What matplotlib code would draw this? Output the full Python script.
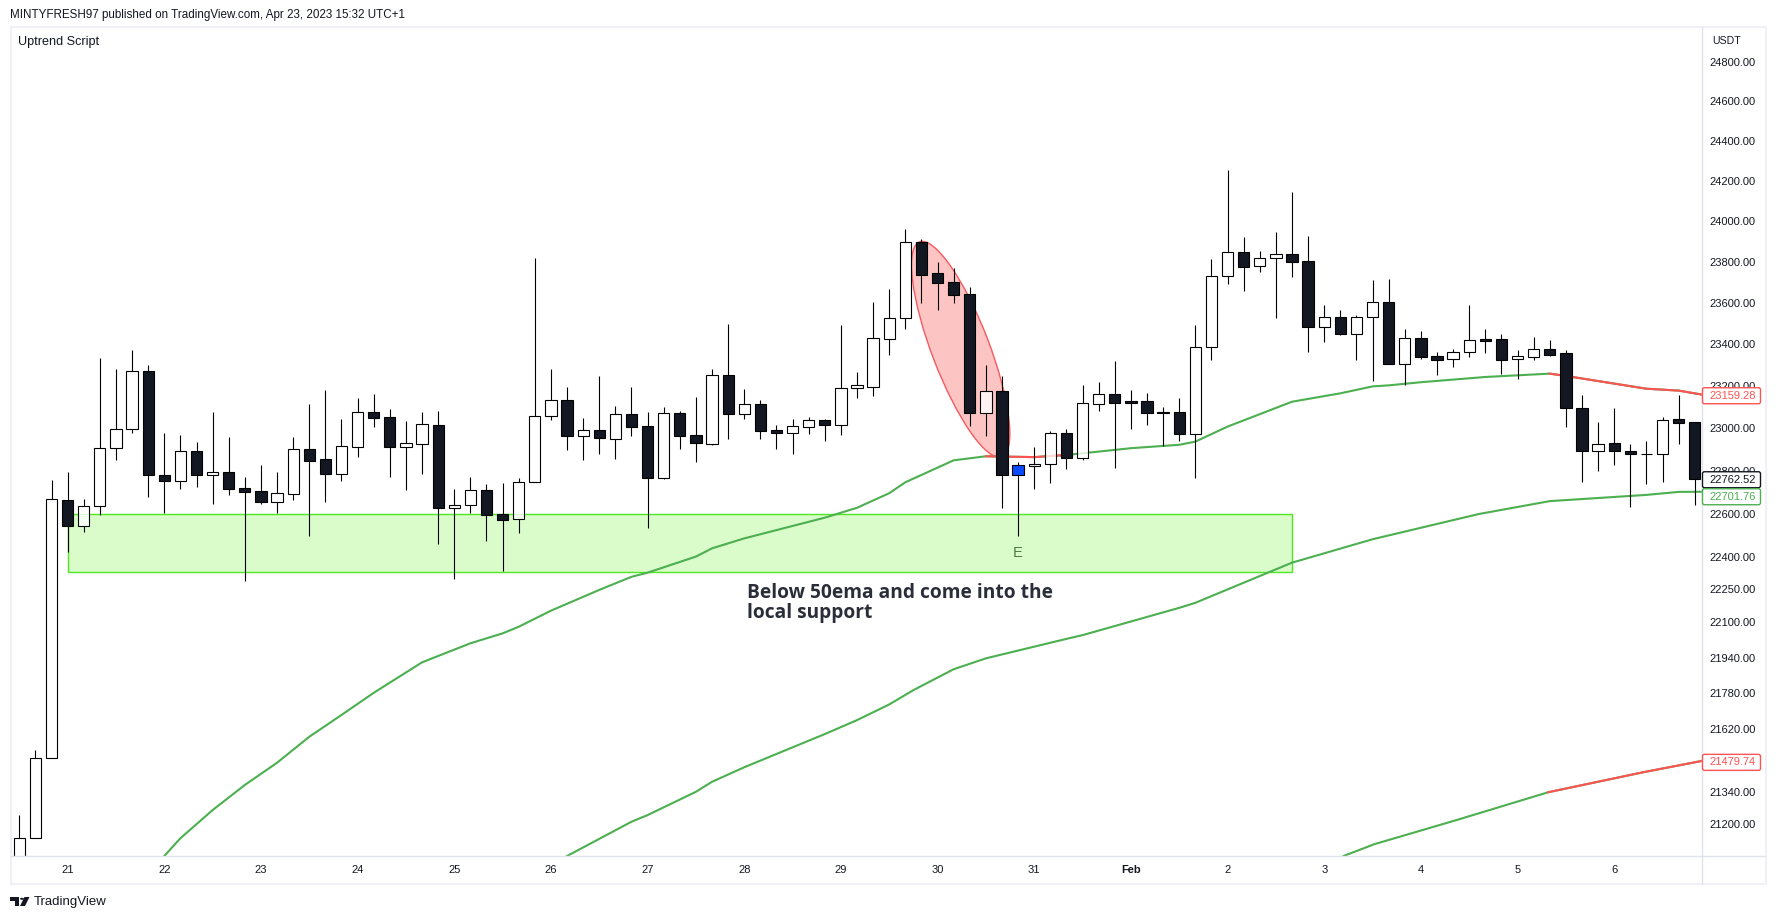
import math
import matplotlib
matplotlib.use("Agg")
import matplotlib.pyplot as plt
import numpy as np
from matplotlib.patches import Rectangle, Ellipse, FancyBboxPatch, Polygon, Circle
from matplotlib.lines import Line2D
from matplotlib.ticker import NullLocator
from matplotlib.transforms import IdentityTransform

W, H = 1776, 919

# 4h candles, index 0 = leftmost candle
opens = [20950, 21140, 21491, 22662, 22544, 22634, 22905, 22995, 23271, 22778,
         22753, 22891, 22782, 22792, 22718, 22704, 22655, 22693, 22901, 22854,
         22786, 22913, 23076, 23052, 22913, 22927, 23014, 22627, 22638, 22708,
         22596, 22576, 22746, 23057, 23133, 22962, 22991, 22951, 23066, 23009,
         22767, 23071, 22966, 22927, 23252, 23069, 23113, 22991, 22979, 23007,
         23037, 23017, 23193, 23198, 23428, 23526, 23897, 23745, 23701, 23643,
         23074, 23175, 22825, 22823, 22833, 22976, 22861, 23116, 23161, 23128,
         23128, 23077, 23075, 22975, 23387, 23730, 23848, 23779, 23818, 23838,
         23804, 23486, 23531, 23452, 23531, 23604, 23305, 23430, 23343, 23329,
         23362, 23425, 23425, 23329, 23342, 23377, 23358, 23095, 22891, 22930,
         22892, 22880, 22877, 23045, 23029]
highs = [21241, 21527, 22757, 22794, 22668, 23335, 23282, 23373, 23301, 22978,
         22968, 22935, 23077, 22959, 22771, 22827, 22794, 22959, 23115, 23182,
         23044, 23144, 23163, 23092, 23035, 23077, 23082, 22714, 22771, 22738,
         22742, 22766, 23820, 23282, 23196, 23049, 23248, 23105, 23196, 23077,
         23101, 23082, 23148, 23282, 23499, 23186, 23134, 23015, 23044, 23053,
         23044, 23494, 23268, 23605, 23669, 23963, 23913, 23800, 23771, 23678,
         23301, 23248, 22841, 22911, 22987, 22996, 23205, 23220, 23320, 23182,
         23167, 23101, 23143, 23494, 23815, 24255, 23923, 23854, 23948, 24146,
         23928, 23591, 23567, 23542, 23712, 23717, 23475, 23465, 23364, 23378,
         23591, 23475, 23451, 23374, 23436, 23422, 23374, 23159, 23031, 23097,
         22927, 22941, 23054, 23159, 23029]
lows = [20900, 21140, 21491, 22423, 22516, 22595, 22850, 22978, 22679, 22601,
        22716, 22725, 22646, 22688, 22290, 22646, 22601, 22665, 22497, 22655,
        22753, 22866, 23008, 22772, 22711, 22786, 22460, 22299, 22604, 22474,
        22336, 22511, 22746, 23041, 22899, 22852, 22880, 22856, 22965, 22534,
        22762, 22903, 22842, 22922, 22951, 23045, 22951, 22903, 22880, 22974,
        22941, 22969, 23145, 23155, 23351, 23476, 23602, 23568, 23602, 23012,
        22965, 22627, 22497, 22716, 22744, 22809, 22852, 23083, 22814, 22998,
        23017, 22917, 22941, 22764, 23323, 23695, 23661, 23753, 23530, 23729,
        23366, 23414, 23447, 23323, 23227, 23305, 23208, 23330, 23255, 23294,
        23342, 23361, 23260, 23232, 23327, 23346, 23004, 22745, 22797, 22825,
        22629, 22736, 22745, 22924, 22638]
closes = [21140, 21491, 22666, 22544, 22634, 22905, 22995, 23271, 22782, 22753,
          22891, 22782, 22792, 22716, 22702, 22655, 22694, 22901, 22847, 22786,
          22915, 23076, 23050, 22913, 22929, 23019, 22627, 22638, 22708, 22595,
          22572, 22746, 23057, 23133, 22965, 22990, 22955, 23066, 23007, 22767,
          23071, 22965, 22932, 23252, 23069, 23113, 22988, 22979, 23009, 23037,
          23017, 23190, 23204, 23429, 23526, 23897, 23738, 23699, 23641, 23074,
          23175, 22781, 22781, 22834, 22976, 22861, 23118, 23161, 23121, 23121,
          23074, 23074, 22974, 23387, 23730, 23848, 23778, 23818, 23838, 23802,
          23486, 23531, 23452, 23531, 23604, 23305, 23430, 23342, 23327, 23362,
          23420, 23419, 23323, 23343, 23377, 23351, 23094, 22891, 22928, 22891,
          22877, 22877, 23038, 23027, 22762.52]
signal_candle = 62

ema_a_idx = [9, 10, 12, 14, 16, 18, 20, 22, 25, 28, 30, 31, 33, 36, 38, 39, 42, 43, 45,
             50, 52, 54, 55, 58, 60, 63, 65, 69, 72, 73, 75, 79, 82, 84, 85, 87, 91, 95,
             96, 101, 103, 104.5]
ema_a_val = [21063, 21140, 21263, 21373, 21471, 21586, 21683, 21782, 21919, 22005, 22050,
             22080, 22153, 22248, 22308, 22327, 22401, 22439, 22485, 22581, 22627, 22695,
             22746, 22849, 22868, 22864, 22874, 22906, 22922, 22937, 23008, 23126, 23166,
             23199, 23204, 23219, 23244, 23260, 23249, 23188, 23179, 23159.28]
ema_a_red = [(60, 65), (95, 104.5)]

ema_b_idx = [34, 38, 39, 42, 43, 45, 50, 52, 54, 55.5, 58, 60, 65, 66, 72, 73, 79, 84,
             90.6, 95, 101, 103, 104.5]
ema_b_val = [21063, 21212, 21241, 21343, 21387, 21451, 21598, 21660, 21730, 21794, 21888,
             21937, 22025, 22042, 22166, 22189, 22373, 22481, 22598, 22658, 22687, 22701,
             22701.76]

ema_c_idx = [82.2, 84.1, 89.2, 94.9, 100.8, 104.5]
ema_c_val = [21063, 21114, 21219, 21341, 21429, 21479.74]
ema_c_red = [(94.9, 104.5)]

price_ticks = [24800, 24600, 24400, 24200, 24000, 23800, 23600, 23400, 23200, 23000,
               22800, 22600, 22400, 22250, 22100, 21940, 21780, 21620, 21340, 21200]
day_ticks = [3, 9, 15, 21, 27, 33, 39, 45, 51, 57, 63, 69, 75, 81, 87, 93, 99]
day_labels = ["21", "22", "23", "24", "25", "26", "27", "28", "29", "30", "31", "Feb",
              "2", "3", "4", "5", "6"]

zone_left, zone_right = 3, 79
zone_top, zone_bottom = 22600, 22328
ellipse_tip_top = (55.88, 23899)
ellipse_tip_bottom = (60.99, 22866)

plt.rcParams['font.family'] = ['Liberation Sans', 'DejaVu Sans']
INK = "#131722"
GREEN = "#4caf50"
RED = "#ff5252"


def fx(x):
    return x / W


def fy(y):
    return 1 - y / H


fig = plt.figure(figsize=(W / 100, H / 100), dpi=100, facecolor="white")
ax = fig.add_axes([fx(11), fy(856), fx(1702 - 11), (856 - 27) / H])
ax.set_yscale("log")
ax.set_xlim(-0.515, 104.45)
ax.set_ylim(21063, 24979)
for s in ax.spines.values():
    s.set_visible(False)

ax.yaxis.tick_right()
ax.set_yticks(price_ticks)
ax.set_yticklabels([f"{p:.2f}" for p in price_ticks])
ax.yaxis.set_minor_locator(NullLocator())
ax.set_xticks(day_ticks)
ax.set_xticklabels(day_labels)
ax.tick_params(axis="both", length=0, labelsize=8, colors=INK)
ax.tick_params(axis="y", pad=5.6)
ax.tick_params(axis="x", pad=6.5)
for lab in ax.get_xticklabels():
    if lab.get_text() == "Feb":
        lab.set_fontweight("bold")

# support zone
ax.add_patch(Rectangle((zone_left, zone_bottom), zone_right - zone_left, zone_top - zone_bottom,
                       facecolor="#d9fcca", edgecolor="#4ee81f", lw=1.0, zorder=1))

# red ellipse, drawn in screen space so it stays a true ellipse on the log axis
p0 = ax.transData.transform(ellipse_tip_top)
p1 = ax.transData.transform(ellipse_tip_bottom)
major = np.hypot(*(p1 - p0))
angle = math.degrees(math.atan2(p1[1] - p0[1], p1[0] - p0[0]))
ax.add_patch(Ellipse((p0 + p1) / 2, major, major * 0.25, angle=angle, transform=IdentityTransform(),
                     facecolor="#fcc5c3", edgecolor="#f7595f", lw=1.0, zorder=1.5))


def draw_ema(idx, val, red_spans=()):
    idx = np.array(idx, dtype=float)
    val = np.array(val, dtype=float)
    ax.plot(idx, val, color=GREEN, lw=1.5, zorder=2, solid_joinstyle="round")
    for a, b in red_spans:
        m = (idx >= a) & (idx <= b)
        ax.plot(idx[m], val[m], color=RED, lw=1.5, zorder=2.1, solid_joinstyle="round")


draw_ema(ema_a_idx, ema_a_val, ema_a_red)
draw_ema(ema_b_idx, ema_b_val)
draw_ema(ema_c_idx, ema_c_val, ema_c_red)

# candles
for i, (o, h, l, c) in enumerate(zip(opens, highs, lows, closes)):
    top, bot = max(o, c), min(o, c)
    ax.vlines(i, top, h, color="black", lw=0.8, zorder=3)
    ax.vlines(i, l, bot, color="black", lw=0.8, zorder=3)
    if i == signal_candle:
        face = "#0a4bff"
    elif c < o:
        face = INK
    else:
        face = (1, 1, 1, 0.8)
    ax.bar(i, top - bot, bottom=bot, width=0.7, facecolor=face, edgecolor="black", lw=0.8, zorder=4)

ax.text(signal_candle, 22418, "E", color="#4f7a48", fontsize=10.5, ha="center", va="center", zorder=5)
ax.text(45.16, 22280, "Below 50ema and come into the\nlocal support", color="#2a2e39",
        fontsize=13.8, fontweight="bold", family=["Open Sans", "DejaVu Sans"],
        ha="left", va="top", linespacing=1.02, zorder=5)

# chart frame and axis rules
fig.add_artist(Rectangle((fx(10.5), fy(884)), fx(1755), 857 / H, transform=fig.transFigure,
                         fill=False, edgecolor="#f0f0f6", lw=1.5, zorder=1))
fig.add_artist(Line2D([fx(11), fx(1765)], [fy(856), fy(856)], color="#e0e3eb", lw=1, zorder=1))
fig.add_artist(Line2D([fx(1702), fx(1702)], [fy(27), fy(884)], color="#e0e3eb", lw=1, zorder=1))

# last value tags on the price scale
tags = [("23159.28", 23159.28, RED, 1), ("22762.52", 22762.52, INK, 1),
        ("22701.76", 22701.76, GREEN, 5), ("21479.74", 21479.74, RED, 1.6)]
for text, val, col, off in tags:
    yc = ax.transData.transform((0, val))[1] - off
    fig.add_artist(FancyBboxPatch((1703.5, yc - 7), 56, 14, boxstyle="round,pad=1,rounding_size=2",
                                  transform=IdentityTransform(), facecolor="white", edgecolor=col,
                                  lw=1, zorder=5))
    fig.text(fx(1709.7), yc / H, text, color=col, fontsize=8, ha="left", va="center", zorder=6)

fig.text(fx(1712.7), fy(40.5), "USDT", color=INK, fontsize=7.6, ha="left", va="center")
fig.text(fx(18.4), fy(41.7), "Uptrend Script", color=INK, fontsize=9.1, ha="left", va="center")
fig.text(fx(9.6), fy(14.7), "MINTYFRESH97 published on TradingView.com, Apr 23, 2023 15:32 UTC+1",
         color=INK, fontsize=8.4, ha="left", va="center")
fig.text(fx(33.3), fy(901.7), "TradingView", color=INK, fontsize=9.5, ha="left", va="center")

# small TradingView logo
logo = [Polygon([(fx(10), fy(897)), (fx(18.5), fy(897)), (fx(18.5), fy(906)), (fx(14.5), fy(906)),
                 (fx(14.5), fy(901)), (fx(10), fy(901))]),
        Circle((fx(22), fy(898.8)), 0.0011),
        Polygon([(fx(24.5), fy(897)), (fx(29.5), fy(897)), (fx(25), fy(906)), (fx(20), fy(906))])]
for part in logo:
    part.set(transform=fig.transFigure, facecolor=INK, edgecolor="none")
    fig.add_artist(part)

fig.savefig("out.png", dpi=100)
